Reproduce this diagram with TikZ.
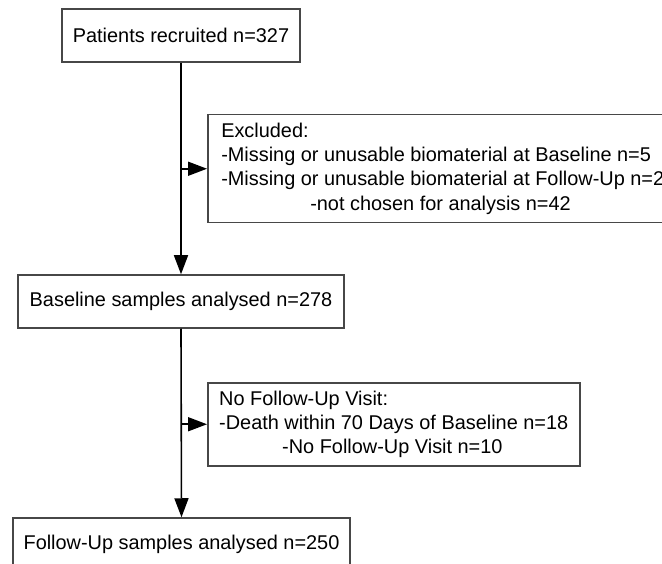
\documentclass[tikz,border=0pt]{standalone}
\usepackage{fontspec}
\setmainfont{Liberation Sans}
\usetikzlibrary{arrows.meta,positioning}
\begin{document}
\begin{tikzpicture}[x=1pt,y=-1pt,
  every node/.style={font=\fontsize{19.9}{24.2}\selectfont},
  box/.style={draw=black!72,line width=1.5pt,rectangle,inner sep=0pt,fill=white},
  conn/.style={black,line width=1.6pt},
  arr/.style={conn,-{Triangle[length=19pt,width=14pt]}}]
\useasboundingbox (0,0) rectangle (662,564);
\clip (0,0) rectangle (662,564);
\node[box,minimum width=238pt,minimum height=53pt] (rec) at (181,35.5) {Patients recruited n=327};
\node[box,minimum width=326pt,minimum height=53pt] (base) at (181,301.5) {Baseline samples analysed n=278};
\node[box,minimum width=337pt,minimum height=53pt] (fu) at (181.5,544.5) {Follow-Up samples analysed n=250};
\node[box,anchor=north west,minimum width=470pt,minimum height=108pt,align=left] (excl) at (207,114)
  {Excluded:\\-Missing or unusable biomaterial at Baseline n=5\\-Missing or unusable biomaterial at Follow-Up n=2\\\hspace*{89pt}-not chosen for analysis n=42};
\node[box,anchor=north west,minimum width=372pt,minimum height=83pt,align=left] (nofu) at (207,382)
  {No Follow-Up Visit:\\-Death within 70 Days of Baseline n=18\\\hspace*{63pt}-No Follow-Up Visit n=10};
\coordinate (j1) at (rec.south |- excl.west);
\coordinate (j2) at (base.south |- nofu.west);
\draw[arr] (rec.south) -- (base.north);
\draw[arr] (base.south) -- (fu.north);
\draw[arr] (j1) -- (excl.west);
\draw[arr] (j2) -- (nofu.west);
\end{tikzpicture}
\end{document}
